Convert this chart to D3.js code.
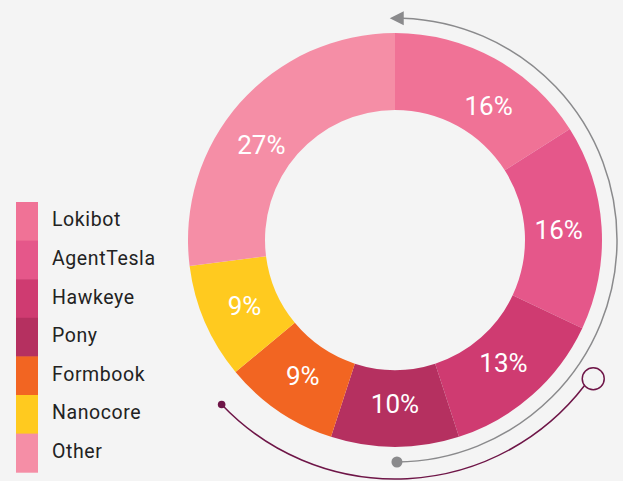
<!DOCTYPE html>
<html>
<head>
<meta charset="utf-8">
<script src="https://cdn.jsdelivr.net/npm/d3@7"></script>
<style>
  html, body { margin: 0; padding: 0; background: #f4f4f4; }
  svg { display: block; }
</style>
</head>
<body>
<svg id="chart" width="623" height="481"></svg>
<script>
// Share of detections per malware family
const families = ["Lokibot", "AgentTesla", "Hawkeye", "Pony", "Formbook", "Nanocore", "Other"];
const shares = [16, 16, 13, 10, 9, 9, 27];
const palette = ["#f07296", "#e5578a", "#cf3b71", "#b53060", "#f26522", "#ffca1f", "#f58ea6"];

const W = 623, H = 481;
const cx = 395, cy = 240;
const rOuter = 207, rInner = 130, rLabel = 164;

const svg = d3.select("#chart");
svg.append("rect").attr("width", W).attr("height", H).attr("fill", "#f4f4f4");

const color = d3.scaleOrdinal().domain(families).range(palette);

const pie = d3.pie().sort(null).value(d => d.value);
const data = families.map((f, i) => ({ name: f, value: shares[i] }));
const arcs = pie(data);

const arc = d3.arc().innerRadius(rInner).outerRadius(rOuter);

const g = svg.append("g").attr("transform", `translate(${cx},${cy})`);

g.selectAll("path.slice")
  .data(arcs)
  .join("path")
  .attr("class", "slice")
  .attr("d", arc)
  .attr("fill", d => color(d.data.name));

// labels sit on the ring's mid-line; the two widest slices get their
// label pulled a little toward the top
const deg = Math.PI / 180;
const nudge = { Lokibot: 6, Other: -6 };
function labelPos(d) {
  const a = (d.startAngle + d.endAngle) / 2 + (nudge[d.data.name] || 0) * deg;
  return [rLabel * Math.sin(a), -rLabel * Math.cos(a)];
}

g.selectAll("text.pct")
  .data(arcs)
  .join("text")
  .attr("class", "pct")
  .attr("transform", d => `translate(${labelPos(d)})`)
  .attr("text-anchor", "middle")
  .attr("dy", "0.36em")
  .attr("fill", "#ffffff")
  .attr("font-family", "Roboto, 'Open Sans', sans-serif")
  .attr("font-size", 26)
  .text(d => d.data.value + "%");

// Decorative guide arcs around the ring
const rGray = 222, rPurple = 239;

const grayArc = d3.arc().innerRadius(rGray).outerRadius(rGray)
  .startAngle(2 * deg).endAngle(179.5 * deg);
g.append("path")
  .attr("d", grayArc())
  .attr("fill", "none")
  .attr("stroke", "#8a8a8c")
  .attr("stroke-width", 1.5);

// arrowhead at the top, pointing left
const ax = rGray * Math.sin(2 * deg), ay = -rGray * Math.cos(2 * deg);
g.append("path")
  .attr("d", `M${ax - 13},${ay} L${ax + 1},${ay - 7} L${ax + 1},${ay + 7} Z`)
  .attr("fill", "#8a8a8c");

// dot at the bottom end of the gray arc
g.append("circle")
  .attr("cx", rGray * Math.sin(179.5 * deg))
  .attr("cy", -rGray * Math.cos(179.5 * deg))
  .attr("r", 5.5)
  .attr("fill", "#8a8a8c");

// purple arc with a ring on one end and a dot on the other
const ringAngle = 125, dotAngle = 226.5, ringR = 11;
const purpleArc = d3.arc().innerRadius(rPurple).outerRadius(rPurple)
  .startAngle(dotAngle * deg).endAngle((ringAngle + 2.6) * deg);
g.append("path")
  .attr("d", purpleArc())
  .attr("fill", "none")
  .attr("stroke", "#6e1547")
  .attr("stroke-width", 1.5);

g.append("circle")
  .attr("cx", rPurple * Math.sin(dotAngle * deg))
  .attr("cy", -rPurple * Math.cos(dotAngle * deg))
  .attr("r", 3.8)
  .attr("fill", "#6e1547");

g.append("circle")
  .attr("cx", (rPurple + 3) * Math.sin(ringAngle * deg))
  .attr("cy", -(rPurple + 3) * Math.cos(ringAngle * deg))
  .attr("r", ringR)
  .attr("fill", "none")
  .attr("stroke", "#6e1547")
  .attr("stroke-width", 1.5);

// Legend
const legendTop = 202, rowH = 38.6;
const legend = svg.append("g");
const rows = legend.selectAll("g.row")
  .data(families)
  .join("g")
  .attr("class", "row")
  .attr("transform", (d, i) => `translate(16,${legendTop + i * rowH})`);

rows.append("rect")
  .attr("width", 22)
  .attr("height", rowH + 0.5)
  .attr("fill", d => color(d));

rows.append("text")
  .attr("x", 36)
  .attr("y", rowH / 2 - 2)
  .attr("dy", "0.36em")
  .attr("fill", "#222222")
  .attr("font-family", "Roboto, 'Open Sans', sans-serif")
  .attr("font-size", 19.5)
  .attr("letter-spacing", 0.6)
  .text(d => d);
</script>
</body>
</html>
